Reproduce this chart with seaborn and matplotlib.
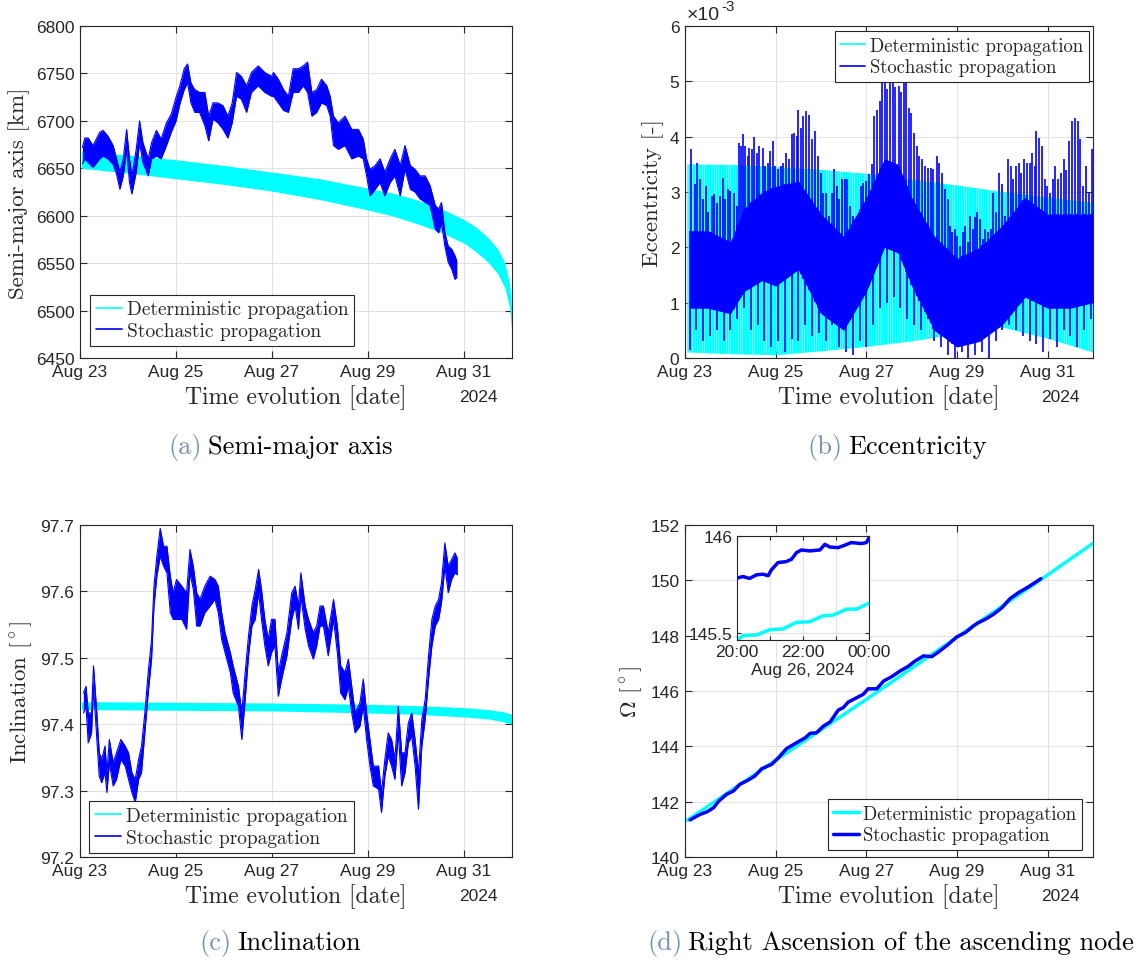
import numpy as np
import matplotlib
matplotlib.use('Agg')
import matplotlib.pyplot as plt
import seaborn as sns
from matplotlib.lines import Line2D

# x axis: days after Aug 23 2024, 00:00
date_ticks = [0, 2, 4, 6, 8]
date_labels = ['Aug 23', 'Aug 25', 'Aug 27', 'Aug 29', 'Aug 31']

# (a) semi-major axis [km]
sma_det_t = [0.03, 1, 2, 3, 4, 5, 6, 6.5, 7, 7.5, 8, 8.25, 8.5, 8.7, 8.85, 8.95, 9.0]
sma_det_hi = [6668, 6664, 6659, 6653, 6646, 6639, 6629, 6624, 6617, 6608, 6596, 6588, 6577, 6565, 6550, 6528, 6498]
sma_det_lo = [6650, 6645, 6639, 6633, 6626, 6617, 6606, 6600, 6592, 6583, 6571, 6562, 6551, 6539, 6524, 6503, 6474]

sma_sto_t = [0.05, 0.1, 0.17, 0.27, 0.41, 0.48, 0.58, 0.69, 0.76, 0.83, 0.9, 0.97, 1.03, 1.08, 1.17,
             1.24, 1.31, 1.42, 1.49, 1.59, 1.69, 1.80, 1.90, 2.0, 2.08, 2.17, 2.24, 2.31, 2.39, 2.49,
             2.6, 2.68, 2.77, 2.87, 2.98, 3.08, 3.17, 3.26, 3.36, 3.47, 3.57, 3.71, 3.85, 3.99, 4.03,
             4.13, 4.24, 4.34, 4.44, 4.55, 4.65, 4.74, 4.83, 4.93, 5.03, 5.14, 5.21, 5.28, 5.38, 5.52,
             5.66, 5.80, 5.90, 5.97, 6.04, 6.15, 6.25, 6.35, 6.46, 6.56, 6.67, 6.77, 6.88, 6.98, 7.08,
             7.19, 7.29, 7.40, 7.47, 7.53, 7.60, 7.67, 7.74, 7.81, 7.85]
sma_sto_hi = [6672, 6682, 6682, 6674, 6688, 6690, 6684, 6674, 6660, 6646, 6660, 6691, 6660, 6642, 6670,
              6700, 6677, 6660, 6677, 6690, 6681, 6698, 6707, 6725, 6737, 6755, 6760, 6740, 6733, 6730,
              6730, 6705, 6719, 6719, 6716, 6705, 6719, 6751, 6747, 6737, 6751, 6758, 6751, 6747, 6751,
              6744, 6733, 6726, 6755, 6755, 6758, 6762, 6730, 6733, 6744, 6737, 6726, 6705, 6698, 6705,
              6691, 6691, 6681, 6660, 6649, 6653, 6660, 6646, 6660, 6670, 6653, 6674, 6653, 6649, 6642,
              6642, 6632, 6611, 6607, 6614, 6582, 6568, 6565, 6558, 6552]
sma_sto_lo = [6655, 6660, 6656, 6651, 6660, 6663, 6660, 6654, 6644, 6628, 6642, 6670, 6635, 6623, 6646,
              6677, 6656, 6642, 6660, 6663, 6660, 6674, 6688, 6700, 6718, 6733, 6740, 6719, 6709, 6709,
              6695, 6679, 6702, 6698, 6691, 6682, 6698, 6726, 6723, 6709, 6730, 6737, 6730, 6726, 6726,
              6719, 6711, 6709, 6730, 6730, 6737, 6730, 6705, 6709, 6719, 6716, 6705, 6674, 6670, 6674,
              6660, 6663, 6660, 6642, 6621, 6628, 6635, 6621, 6635, 6642, 6621, 6649, 6628, 6625, 6618,
              6614, 6611, 6586, 6582, 6593, 6568, 6551, 6544, 6533, 6535]

# (b) eccentricity [1e-3]
ecc_det_t = [0.05, 1, 2, 3, 4, 5, 6, 7, 8, 9]
ecc_det_hi = [3.5, 3.49, 3.45, 3.4, 3.33, 3.22, 3.12, 3.0, 2.9, 2.8]
ecc_det_lo = [0.1, 0.07, 0.05, 0.12, 0.2, 0.3, 0.43, 0.55, 0.35, 0.1]

ecc_core_t = [0.1, 0.5, 1.0, 1.3, 1.7, 2.0, 2.5, 3.0, 3.5, 4.0, 4.4, 4.7, 5.0, 5.5, 6.0, 6.5, 7.0, 7.5, 8.0, 8.5, 9.0]
ecc_core_hi = [2.3, 2.3, 2.1, 2.7, 3.0, 3.1, 3.2, 2.6, 2.2, 2.9, 3.6, 3.5, 2.9, 2.2, 1.8, 2.0, 2.4, 2.9, 2.6, 2.6, 2.6]
ecc_core_lo = [0.9, 0.9, 0.8, 1.2, 1.4, 1.3, 1.6, 0.8, 0.5, 1.2, 2.0, 1.9, 1.3, 0.5, 0.2, 0.3, 0.6, 1.1, 0.9, 0.9, 1.0]

ecc_peak_t = [0.13, 0.21, 0.26, 0.33, 0.39, 0.46, 0.51, 0.59, 0.64, 0.70, 0.77, 0.83, 0.88, 0.94, 0.99,
              1.07, 1.14, 1.20, 1.23, 1.27, 1.32, 1.38, 1.42, 1.47, 1.53, 1.58, 1.64, 1.71, 1.76, 1.82,
              1.88, 1.93, 1.99, 2.06, 2.11, 2.17, 2.23, 2.29, 2.35, 2.40, 2.46, 2.50, 2.55, 2.61, 2.67,
              2.73, 2.79, 2.87, 2.94, 2.99, 3.05, 3.11, 3.17, 3.24, 3.29, 3.35, 3.40, 3.47, 3.53, 3.58,
              3.64, 3.71, 3.77, 3.82, 3.88, 3.93, 3.99, 4.05, 4.12, 4.17, 4.23, 4.29, 4.35, 4.41, 4.46,
              4.52, 4.58, 4.63, 4.71, 4.76, 4.82, 4.87, 4.93, 4.99, 5.05, 5.11, 5.17, 5.23, 5.29, 5.35,
              5.42, 5.48, 5.55, 5.61, 5.67, 5.74, 5.79, 5.85, 5.90, 5.96, 6.01, 6.07, 6.13, 6.18, 6.24,
              6.29, 6.35, 6.40, 6.45, 6.51, 6.57, 6.62, 6.69, 6.75, 6.80, 6.86, 6.92, 6.99, 7.06, 7.12,
              7.18, 7.24, 7.30, 7.36, 7.41, 7.48, 7.54, 7.60, 7.66, 7.71, 7.74, 7.80, 7.87, 7.93, 7.99,
              8.05, 8.11, 8.17, 8.23, 8.29, 8.35, 8.41, 8.48, 8.54, 8.60, 8.66, 8.72, 8.79, 8.85, 8.91, 8.97]
ecc_peak_v = [3.77, 3.14, 3.53, 3.23, 2.87, 3.11, 2.63, 2.93, 2.96, 2.81, 2.93, 3.26, 2.87, 3.05, 3.02,
              2.99, 2.75, 3.89, 3.83, 4.04, 3.83, 3.65, 3.80, 3.77, 4.00, 3.71, 3.83, 3.80, 3.47, 3.53,
              3.74, 3.92, 3.47, 3.41, 3.47, 3.53, 3.71, 3.59, 4.04, 4.07, 4.02, 4.49, 4.16, 4.37, 4.46,
              4.40, 3.95, 4.10, 3.65, 3.35, 2.99, 2.99, 2.57, 2.99, 3.41, 3.11, 2.87, 3.23, 3.23, 3.23,
              2.75, 2.57, 2.51, 2.39, 3.11, 3.17, 3.20, 3.32, 3.50, 4.37, 4.49, 4.64, 5.10, 5.10, 4.86,
              5.10, 5.10, 4.89, 4.92, 4.80, 5.10, 5.10, 4.52, 4.43, 4.07, 3.83, 3.65, 3.59, 3.47, 3.44,
              3.44, 3.41, 3.65, 3.53, 3.35, 3.05, 2.87, 2.39, 2.27, 2.33, 2.21, 2.03, 2.27, 2.39, 2.09,
              2.57, 2.33, 2.54, 2.63, 2.51, 2.15, 2.33, 2.27, 2.33, 2.99, 2.63, 3.35, 3.14, 2.57, 3.59,
              3.47, 3.23, 3.47, 3.53, 3.35, 3.59, 3.53, 3.53, 3.71, 3.47, 4.10, 3.98, 3.83, 3.23, 3.11,
              2.99, 3.23, 3.47, 3.23, 3.35, 3.59, 3.40, 3.92, 4.28, 4.34, 4.28, 3.95, 3.11, 3.47, 2.99, 3.77]

ecc_dip_t = [0.1, 0.25, 0.4, 0.55, 0.7, 0.85, 1.0, 1.15, 1.3, 1.45, 1.6, 1.75, 1.9, 2.05, 2.2, 2.35, 2.5,
             2.65, 2.8, 2.95, 3.1, 3.25, 3.4, 3.55, 3.7, 3.85, 4.0, 4.15, 4.3, 4.45, 4.6, 4.75, 4.9, 5.05,
             5.2, 5.35, 5.5, 5.65, 5.8, 5.95, 6.1, 6.25, 6.4, 6.55, 6.7, 6.85, 7.0, 7.15, 7.3, 7.45, 7.6,
             7.75, 7.9, 8.05, 8.2, 8.35, 8.5, 8.65, 8.8, 8.95]
ecc_dip_v = [0.15, 0.5, 0.3, 0.4, 0.5, 0.3, 0.5, 0.7, 0.9, 0.5, 0.6, 0.3, 0.2, 0.3, 0.1, 0.35, 0.3,
             0.6, 0.4, 0.45, 0.3, 0.6, 0.2, 0.1, 0.05, 0.3, 0.2, 0.6, 0.9, 1.0, 1.1, 0.9, 0.7, 0.6,
             0.5, 0.7, 0.3, 0.2, 0.05, 0.0, 0.1, 0.0, 0.05, 0.1, 0.0, 0.3, 0.5, 0.6, 0.5, 0.4, 0.3,
             0.25, 0.1, 0.35, 0.2, 0.5, 0.4, 0.2, 0.5, 0.7]

# (c) inclination [deg]
inc_det_t = [0.03, 2, 4, 6, 7, 8, 8.5, 8.8, 9.0]
inc_det_hi = [97.434, 97.433, 97.432, 97.430, 97.428, 97.425, 97.422, 97.419, 97.415]
inc_det_lo = [97.422, 97.421, 97.420, 97.417, 97.415, 97.411, 97.408, 97.404, 97.400]

inc_sto_t = [0.07, 0.125, 0.17, 0.24, 0.28, 0.35, 0.40, 0.45, 0.52, 0.56, 0.61, 0.69, 0.76, 0.85, 0.94,
             1.01, 1.08, 1.15, 1.22, 1.28, 1.35, 1.42, 1.49, 1.54, 1.60, 1.67, 1.74, 1.81, 1.88, 1.94,
             2.01, 2.12, 2.22, 2.29, 2.36, 2.43, 2.50, 2.60, 2.71, 2.81, 2.88, 2.95, 3.02, 3.13, 3.19,
             3.30, 3.37, 3.44, 3.51, 3.58, 3.65, 3.72, 3.78, 3.85, 3.92, 3.99, 4.06, 4.13, 4.20, 4.31,
             4.41, 4.48, 4.55, 4.60, 4.69, 4.76, 4.86, 4.93, 5.00, 5.07, 5.17, 5.28, 5.36, 5.43, 5.52,
             5.59, 5.66, 5.73, 5.83, 5.90, 5.97, 6.04, 6.11, 6.22, 6.28, 6.35, 6.42, 6.49, 6.56, 6.63,
             6.70, 6.77, 6.84, 6.91, 6.98, 7.05, 7.12, 7.19, 7.26, 7.33, 7.40, 7.47, 7.53, 7.60, 7.67,
             7.74, 7.81, 7.86]
inc_sto_hi = [97.447, 97.457, 97.417, 97.417, 97.488, 97.417, 97.357, 97.347, 97.367, 97.327, 97.377,
              97.342, 97.357, 97.377, 97.367, 97.357, 97.327, 97.317, 97.347, 97.367, 97.417, 97.478,
              97.528, 97.608, 97.653, 97.695, 97.668, 97.668, 97.623, 97.598, 97.618, 97.608, 97.598,
              97.663, 97.638, 97.598, 97.588, 97.608, 97.623, 97.618, 97.608, 97.568, 97.538, 97.508,
              97.488, 97.457, 97.417, 97.478, 97.533, 97.578, 97.603, 97.633, 97.603, 97.558, 97.528,
              97.558, 97.558, 97.478, 97.503, 97.538, 97.598, 97.608, 97.578, 97.628, 97.578, 97.558,
              97.538, 97.548, 97.578, 97.578, 97.538, 97.588, 97.548, 97.488, 97.478, 97.498, 97.457,
              97.417, 97.432, 97.468, 97.417, 97.377, 97.337, 97.337, 97.297, 97.347, 97.387, 97.377,
              97.347, 97.427, 97.357, 97.357, 97.402, 97.417, 97.377, 97.327, 97.407, 97.437, 97.503,
              97.558, 97.578, 97.588, 97.613, 97.673, 97.638, 97.648, 97.658, 97.650]
inc_sto_lo = [97.417, 97.427, 97.372, 97.387, 97.457, 97.377, 97.322, 97.312, 97.327, 97.297, 97.342,
              97.307, 97.317, 97.347, 97.337, 97.317, 97.297, 97.282, 97.317, 97.327, 97.387, 97.447,
              97.498, 97.578, 97.623, 97.653, 97.638, 97.628, 97.568, 97.558, 97.558, 97.558, 97.543,
              97.628, 97.603, 97.548, 97.548, 97.568, 97.578, 97.588, 97.568, 97.528, 97.508, 97.478,
              97.447, 97.427, 97.377, 97.437, 97.503, 97.548, 97.558, 97.598, 97.558, 97.518, 97.488,
              97.508, 97.518, 97.442, 97.468, 97.503, 97.558, 97.578, 97.543, 97.593, 97.543, 97.518,
              97.498, 97.518, 97.548, 97.548, 97.503, 97.558, 97.508, 97.447, 97.437, 97.457, 97.417,
              97.387, 97.397, 97.427, 97.377, 97.337, 97.307, 97.302, 97.267, 97.322, 97.352, 97.337,
              97.317, 97.387, 97.307, 97.327, 97.372, 97.382, 97.337, 97.272, 97.367, 97.407, 97.468,
              97.518, 97.548, 97.558, 97.583, 97.638, 97.598, 97.618, 97.628, 97.625]

# (d) RAAN [deg]
raan_det_t = [0.05, 2, 4, 6, 8, 9]
raan_det_v = [141.33, 143.5, 145.7, 147.95, 150.2, 151.34]
raan_sto_t = [0.11, 0.33, 0.48, 0.63, 0.74, 0.92, 1.07, 1.21, 1.36, 1.54, 1.69, 1.91, 2.06, 2.24, 2.46,
              2.65, 2.76, 2.90, 3.05, 3.20, 3.38, 3.49, 3.60, 3.79, 3.93, 4.04, 4.23, 4.38, 4.56, 4.74,
              4.93, 5.07, 5.26, 5.44, 5.59, 5.81, 5.99, 6.18, 6.36, 6.47, 6.62, 6.80, 6.99, 7.17, 7.35,
              7.54, 7.72, 7.85]
raan_sto_v = [141.34, 141.54, 141.63, 141.78, 142.02, 142.27, 142.39, 142.63, 142.75, 142.93, 143.19,
              143.35, 143.59, 143.92, 144.13, 144.31, 144.47, 144.49, 144.73, 144.88, 145.31, 145.40,
              145.60, 145.76, 145.88, 146.08, 146.08, 146.36, 146.52, 146.72, 146.90, 147.08, 147.27,
              147.24, 147.41, 147.69, 147.95, 148.11, 148.35, 148.47, 148.59, 148.77, 149.01, 149.34,
              149.55, 149.73, 149.92, 150.06]

# inset: hours after Aug 26 20:00
zoom_sto_h = [0, 0.18, 0.38, 0.59, 0.79, 0.94, 1.04, 1.24, 1.49, 1.65, 1.80, 1.95, 2.20, 2.51, 2.66,
              2.81, 3.06, 3.26, 3.46, 3.77, 3.92, 4.0]
zoom_sto_v = [145.783, 145.791, 145.781, 145.800, 145.803, 145.795, 145.825, 145.863, 145.868, 145.880,
              145.914, 145.928, 145.923, 145.928, 145.957, 145.943, 145.940, 145.952, 145.966, 145.961,
              145.966, 145.991]
zoom_det_h = [0, 0.18, 0.59, 0.99, 1.39, 1.80, 2.20, 2.61, 2.91, 3.31, 3.62, 4.0]
zoom_det_v = [145.464, 145.486, 145.490, 145.517, 145.521, 145.555, 145.558, 145.589, 145.592, 145.623,
              145.623, 145.654]
zoom_ticks = [0, 1, 2, 3, 4]
zoom_labels = ['20:00', '', '22:00', '', '00:00']

CYAN = '#00ffff'
BLUE = '#0000ff'
INK = '#262626'
SERIF = 'cmr10'
LEG_LABELS = ['Deterministic propagation', 'Stochastic propagation']
TICK_FS = 12.5

sns.set_style('ticks')
plt.rcParams['font.family'] = ['Liberation Sans', 'DejaVu Sans']
plt.rcParams['mathtext.fontset'] = 'cm'
plt.rcParams['axes.unicode_minus'] = False
plt.rcParams['hatch.linewidth'] = 1.5

fig = plt.figure(figsize=(11.45, 9.62), dpi=100)
ax_a = fig.add_axes([0.0699, 0.6268, 0.3773, 0.3451])
ax_b = fig.add_axes([0.5983, 0.6268, 0.3563, 0.3451])
ax_c = fig.add_axes([0.0699, 0.1081, 0.3773, 0.3451])
ax_d = fig.add_axes([0.5983, 0.1081, 0.3563, 0.3451])


def style_axes(ax, yticks, ylabels, ylabel):
    ax.set_xlim(0, 9)
    ax.set_ylim(yticks[0], yticks[-1])
    ax.set_xticks(date_ticks)
    ax.set_xticklabels(date_labels)
    ax.set_yticks(yticks)
    ax.set_yticklabels(ylabels)
    ax.tick_params(direction='in', top=True, right=True, length=5, width=0.8,
                   labelsize=TICK_FS, colors=INK, pad=4)
    ax.grid(True, color='#e2e2e2', lw=0.8)
    ax.set_axisbelow(True)
    for s in ax.spines.values():
        s.set_color(INK)
        s.set_linewidth(0.8)
    ax.set_xlabel('Time evolution [date]', fontfamily=SERIF, fontsize=17, labelpad=4, color=INK)
    ax.set_ylabel(ylabel, fontfamily=SERIF, fontsize=16.5, labelpad=4, color=INK)
    ax.text(0.921, -0.117, '2024', transform=ax.transAxes, ha='center', va='center',
            fontsize=TICK_FS, color=INK)


def add_legend(ax, loc, anchor, lw, fs):
    handles = [Line2D([], [], color=CYAN, lw=lw), Line2D([], [], color=BLUE, lw=lw)]
    leg = ax.legend(handles, LEG_LABELS, loc=loc, bbox_to_anchor=anchor, borderaxespad=0,
                    prop={'family': SERIF, 'size': fs}, frameon=True, fancybox=False,
                    edgecolor=INK, framealpha=1, handlelength=1.35, handletextpad=0.25,
                    borderpad=0.3, labelspacing=0.2)
    leg.get_frame().set_linewidth(0.8)
    leg.set_zorder(10)


# (a)
ax_a.fill_between(sma_det_t, sma_det_lo, sma_det_hi, color=CYAN, lw=0)
ax_a.fill_between(sma_sto_t, sma_sto_lo, sma_sto_hi, color=BLUE, lw=0)
sns.lineplot(x=sma_sto_t, y=sma_sto_hi, ax=ax_a, color=BLUE, lw=0.8, sort=False, estimator=None)
sns.lineplot(x=sma_sto_t, y=sma_sto_lo, ax=ax_a, color=BLUE, lw=0.8, sort=False, estimator=None)
style_axes(ax_a, [6450, 6500, 6550, 6600, 6650, 6700, 6750, 6800],
           ['6450', '6500', '6550', '6600', '6650', '6700', '6750', '6800'], 'Semi-major axis [km]')
add_legend(ax_a, 'lower left', (0.023, 0.036), 1.2, 14)

# (b)
ax_b.fill_between(ecc_det_t, ecc_det_lo, ecc_det_hi, facecolor='none', edgecolor=CYAN,
                  hatch='|||||||', lw=0)
ax_b.fill_between(ecc_core_t, ecc_core_lo, ecc_core_hi, color=BLUE, lw=0)
root_up = np.interp(ecc_peak_t, ecc_core_t, ecc_core_lo)
ax_b.vlines(ecc_peak_t, root_up, ecc_peak_v, color=BLUE, lw=1.2)
root_dn = np.interp(ecc_dip_t, ecc_core_t, ecc_core_hi)
ax_b.vlines(ecc_dip_t, ecc_dip_v, root_dn, color=BLUE, lw=1.2)
style_axes(ax_b, [0, 1, 2, 3, 4, 5, 6], ['0', '1', '2', '3', '4', '5', '6'], 'Eccentricity [-]')
add_legend(ax_b, 'upper right', (0.990, 0.985), 1.2, 13.5)
mult = ax_b.text(0.005, 1.01, '×10', transform=ax_b.transAxes, ha='left', va='bottom',
                 fontsize=14, color=INK)
ax_b.annotate('-3', xy=(1, 1), xycoords=mult, xytext=(0.5, 0), textcoords='offset points',
              ha='left', va='center', fontsize=11, color=INK, annotation_clip=False)

# (c)
ax_c.fill_between(inc_det_t, inc_det_lo, inc_det_hi, color=CYAN, lw=0)
ax_c.fill_between(inc_sto_t, inc_sto_lo, inc_sto_hi, color=BLUE, lw=0)
sns.lineplot(x=inc_sto_t, y=inc_sto_hi, ax=ax_c, color=BLUE, lw=0.8, sort=False, estimator=None)
sns.lineplot(x=inc_sto_t, y=inc_sto_lo, ax=ax_c, color=BLUE, lw=0.8, sort=False, estimator=None)
style_axes(ax_c, [97.2, 97.3, 97.4, 97.5, 97.6, 97.7],
           ['97.2', '97.3', '97.4', '97.5', '97.6', '97.7'], 'Inclination [$^\\circ$]')
add_legend(ax_c, 'lower left', (0.021, 0.012), 1.2, 14)

# (d)
sns.lineplot(x=raan_det_t, y=raan_det_v, ax=ax_d, color=CYAN, lw=2.5, sort=False, estimator=None)
sns.lineplot(x=raan_sto_t, y=raan_sto_v, ax=ax_d, color=BLUE, lw=2.5, sort=False, estimator=None)
style_axes(ax_d, [140, 142, 144, 146, 148, 150, 152],
           ['140', '142', '144', '146', '148', '150', '152'], '$\\Omega$ [$^\\circ$]')
add_legend(ax_d, 'lower right', (0.973, 0.021), 2.5, 13.5)

ins = fig.add_axes([0.6437, 0.3337, 0.1153, 0.1081])
sns.lineplot(x=zoom_det_h, y=zoom_det_v, ax=ins, color=CYAN, lw=2.5, sort=False, estimator=None)
sns.lineplot(x=zoom_sto_h, y=zoom_sto_v, ax=ins, color=BLUE, lw=2.5, sort=False, estimator=None)
ins.set_xlim(0, 4)
ins.set_ylim(145.464, 146.0)
ins.set_xticks(zoom_ticks)
ins.set_xticklabels(zoom_labels)
ins.set_yticks([145.5, 146])
ins.set_yticklabels(['145.5', '146'])
ins.tick_params(direction='in', top=True, right=True, length=3, width=0.8, labelsize=TICK_FS,
                colors=INK, pad=3)
ins.grid(True, color='#e2e2e2', lw=0.8)
ins.set_axisbelow(True)
for s in ins.spines.values():
    s.set_color(INK)
    s.set_linewidth(0.8)
ins.set_xlabel('Aug 26, 2024', fontsize=TICK_FS, color=INK, labelpad=2)
ins.set_ylabel('')

# captions
captions = [(0.1467, 0.528, '(a)', 'Semi-major axis'),
            (0.7048, 0.528, '(b)', 'Eccentricity'),
            (0.1738, 0.0125, '(c)', 'Inclination'),
            (0.5651, 0.0125, '(d)', 'Right Ascension of the ascending node')]
tags = []
for x, y, tag, txt in captions:
    tags.append(fig.text(x, y, tag, fontfamily=SERIF, fontsize=19, color='#7391b0',
                         ha='left', va='baseline'))
fig.canvas.draw()
inv = fig.transFigure.inverted()
for t_obj, (x, y, tag, txt) in zip(tags, captions):
    ext = t_obj.get_window_extent()
    x1 = inv.transform((ext.x1 + 6, 0))[0]
    fig.text(x1, y, txt, fontfamily=SERIF, fontsize=19, color='black', ha='left', va='baseline')

fig.savefig('out.png', dpi=100)
